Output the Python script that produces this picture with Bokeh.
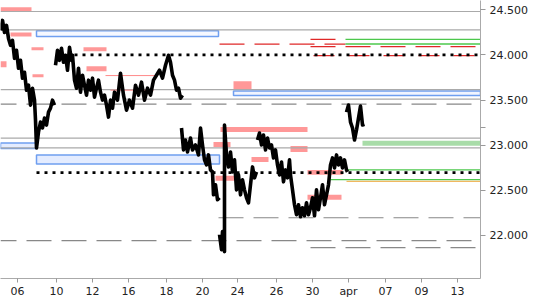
from bokeh.plotting import figure
from bokeh.models import Range1d, FixedTicker, Label, ColumnDataSource
from bokeh.embed import file_html
from bokeh.resources import INLINE

NaN = float("nan")

# ---- x tick positions (bar index) and labels ----
tick_pos = [8.5, 28, 46, 64, 83, 101, 118.5, 138, 156, 174, 192.5, 210.5, 228.5]
tick_labels = ["06", "10", "12", "16", "18", "20", "24", "26", "30", "apr", "07", "09", "13"]

price_ticks = [22.0, 22.5, 23.0, 23.5, 24.0, 24.5]
price_tick_labels = ["22.000", "22.500", "23.000", "23.500", "24.000", "24.500"]
last_price = 23.20025
last_price_label = "23.200,25"

# ---- price series segments (bar index, price) ----
seg1_x = [0, 1, 2, 3, 4, 5, 6, 7, 8, 9, 10, 11, 12, 13, 14, 15, 16, 17, 17.5, 18, 19, 20, 21, 22, 23, 24, 25, 26, 27]
seg1_y = [24.271, 24.382, 24.249, 24.327, 24.183, 24.106, 24.161, 23.962, 24.051, 23.852, 23.940, 23.742, 23.808,
          23.609, 23.664, 23.444, 23.631, 23.499, 23.278, 22.969, 23.146, 23.256, 23.190, 23.300, 23.223, 23.366,
          23.410, 23.499, 23.444]
seg2_x = [27.5, 28.5, 29.5, 30.5, 31.5, 32.5, 33.5, 34.5, 35.5, 36, 37, 38, 39, 40, 41, 42, 43, 44, 45, 46, 47, 48,
          49, 50, 51, 52, 53, 54, 55, 56, 57, 58.5, 60, 61.5, 63, 64.5, 66, 67.5, 69, 70.5, 72, 73.5, 75, 76.5, 78,
          79.5, 81, 82.5, 84, 85, 86, 87, 88, 89, 90, 91]
seg2_y = [23.885, 24.051, 23.940, 24.073, 23.918, 23.996, 23.830, 24.084, 23.940, 23.996, 23.720, 23.631, 23.852,
          23.587, 23.775, 23.664, 23.554, 23.720, 23.609, 23.742, 23.532, 23.631, 23.720, 23.587, 23.499, 23.554,
          23.444, 23.311, 23.499, 23.410, 23.587, 23.499, 23.797, 23.554, 23.388, 23.499, 23.410, 23.664, 23.554,
          23.698, 23.499, 23.631, 23.554, 23.720, 23.775, 23.830, 23.742, 23.885, 23.996, 23.918, 23.775, 23.720,
          23.609, 23.631, 23.521, 23.554]
seg3_x = [90.5, 91.5, 92.5, 93.5, 95, 96, 97.5, 99, 100, 101, 102, 103, 104, 105, 106, 106.5, 107.5, 108.5, 109.5]
seg3_y = [23.190, 22.947, 23.057, 22.925, 23.079, 22.947, 23.002, 22.892, 23.190, 23.002, 22.837, 22.781, 22.892,
          22.726, 22.704, 22.450, 22.561, 22.395, 22.417]
seg4_x = [109.5, 110.5, 111, 111.5, 112, 112, 113, 114, 115, 116, 117, 118, 119, 120, 121, 122, 123, 124, 125, 126,
          127, 128]
seg4_y = [22.009, 21.843, 22.042, 21.865, 21.821, 23.223, 22.892, 22.759, 22.925, 22.704, 22.837, 22.505, 22.671,
          22.450, 22.616, 22.505, 22.417, 22.362, 22.561, 22.759, 22.638, 22.704]
seg5_x = [128.5, 129.5, 130.5, 131.5, 132.5, 133.5, 134.5, 135.5, 136.5, 137.5, 138.5, 139.5, 140.5, 141.5, 142.5,
          143.5, 144.5, 145, 146, 147, 148, 149, 150, 151, 152, 153, 154, 155, 156, 157, 158, 159, 160, 161, 162,
          163, 164, 165, 166, 167, 168, 169, 170, 171, 172, 173, 173.5]
seg5_y = [23.057, 23.135, 23.002, 23.113, 22.947, 23.079, 22.969, 23.002, 22.859, 22.947, 22.781, 22.671, 22.814,
          22.594, 22.726, 22.638, 22.837, 22.671, 22.505, 22.340, 22.229, 22.340, 22.207, 22.307, 22.218, 22.362,
          22.229, 22.307, 22.417, 22.218, 22.505, 22.285, 22.417, 22.561, 22.340, 22.450, 22.561, 22.781, 22.859,
          22.748, 22.892, 22.781, 22.859, 22.748, 22.837, 22.726, 22.704]
seg6_x = [173, 174, 175, 176, 177, 178, 179, 180, 181, 182]
seg6_y = [23.366, 23.444, 23.256, 23.190, 23.057, 23.168, 23.300, 23.433, 23.223, 23.230]

# ---- horizontal levels ----
gray_solid_y = [24.481, 24.277, 23.615, 23.510, 23.079, 22.969]
gray_solid_x0 = [0, 0, 0, 62.5, 0, 0]
gray_solid_x1 = [240, 240, 240, 240, 240, 240]

gray_dash_y = [23.455, 22.196, 21.942, 21.865]
gray_dash_x0 = [0, 109, 0, 155]
gray_dash_x1 = [240, 240, 235.5, 237.5]
gray_dash_off = [9, 0, 9, 0]

red_dash_y = [24.120, 24.091]
red_dash_x0 = [109.5, 155]
red_dash_x1 = [172.5, 237.5]
red_dash2_y = [23.992]
red_dash2_x0 = [156.5]
red_dash2_x1 = [237.5]
red_solid_y = [24.172]
red_solid_x0 = [155]
red_solid_x1 = [167.5]

green_y = [24.172, 24.120, 22.726, 22.618]
green_x0 = [172.5, 172.5, 173.5, 165]
green_x1 = [240, 240, 240, 240]
orange_y = [22.600]
orange_x0 = [173]
orange_x1 = [240]

dot_y = [24.0, 22.696]
dot_x0 = [37, 18]
dot_x1 = [240, 240]

pink_line_y = [23.771, 23.609]
pink_line_x0 = [52.5, 55]
pink_line_x1 = [77.5, 76.5]

# ---- zones ----
pink_left = [0, 5, 15.5, 0, 16, 41.5, 43, 116.5, 110, 106.5, 125.5, 145, 107.5, 153.5, 153.5]
pink_right = [15.5, 15.5, 21.5, 3, 21.5, 53, 53, 125.5, 153.5, 115, 134, 153.5, 117.5, 171, 170.5]
pink_bottom = [24.484, 24.205, 24.051, 23.863, 23.753, 24.040, 23.819, 23.620, 23.146, 22.980, 22.814, 22.925,
               22.605, 22.671, 22.395]
pink_top = [24.528, 24.249, 24.084, 23.929, 23.786, 24.084, 23.874, 23.709, 23.201, 23.035, 22.870, 22.991,
            22.660, 22.726, 22.450]

blue_left = [18, 116.5, 0, 18]
blue_right = [109, 240, 18, 109.5]
blue_bottom = [24.205, 23.551, 22.963, 22.792]
blue_top = [24.268, 23.601, 23.024, 22.892]
blue_fill = ["#f6f8ff", "#f0f4ff", "#e4ecff", "#e4ecff"]

green_zone_left = [181]
green_zone_right = [240]
green_zone_bottom = [22.993]
green_zone_top = [23.049]

FONT = "DejaVu Sans"

p = figure(width=550, height=300, x_range=Range1d(0, 240), y_range=Range1d(21.523, 24.6026),
           output_backend="svg", toolbar_location=None, y_axis_location="right",
           min_border_left=0, min_border_top=0, min_border_right=70, min_border_bottom=21)
p.outline_line_color = None
p.xgrid.visible = False
p.ygrid.visible = False
p.background_fill_color = "white"
p.border_fill_color = "white"

# axes
xa = p.xaxis[0]
xa.ticker = FixedTicker(ticks=tick_pos)
xa.major_label_overrides = {t: l for t, l in zip(tick_pos, tick_labels)}
xa.axis_line_color = "#aaaaaa"
xa.major_tick_line_color = "#999999"
xa.major_tick_out = 4
xa.major_tick_in = 0
xa.minor_tick_line_color = None
xa.major_label_standoff = 2
xa.major_label_text_font = FONT
xa.major_label_text_font_size = "11px"
xa.major_label_text_color = "#222222"

ya = p.yaxis[0]
yt = price_ticks + [last_price]
ya.ticker = FixedTicker(ticks=yt)
ov = {t: l for t, l in zip(price_ticks, price_tick_labels)}
ov[last_price] = ""
ya.major_label_overrides = ov
ya.axis_line_color = "#aaaaaa"
ya.major_tick_line_color = "#999999"
ya.major_tick_out = 5
ya.major_tick_in = 0
ya.minor_tick_line_color = None
ya.major_label_standoff = 4
ya.major_label_text_font = FONT
ya.major_label_text_font_size = "11px"
ya.major_label_text_color = "#222222"

# zones
p.quad(left=green_zone_left, right=green_zone_right, bottom=green_zone_bottom, top=green_zone_top,
       fill_color="#a8dca8", line_color=None)
p.quad(left=pink_left, right=pink_right, bottom=pink_bottom, top=pink_top, fill_color="#ff9898", line_color=None)
p.quad(source=ColumnDataSource(dict(left=blue_left, right=blue_right, bottom=blue_bottom, top=blue_top,
                                    fill=blue_fill)),
       left="left", right="right", bottom="bottom", top="top", fill_color="fill",
       line_color="#6f9ff0", line_width=1.5)

# levels
p.segment(x0=gray_solid_x0, y0=gray_solid_y, x1=gray_solid_x1, y1=gray_solid_y, line_color="#aaaaaa", line_width=1.2)
for y, a, b, off in zip(gray_dash_y, gray_dash_x0, gray_dash_x1, gray_dash_off):
    p.line([a, b], [y, y], line_color="#888888", line_width=1.2, line_dash="25 10", line_dash_offset=off)
p.segment(x0=pink_line_x0, y0=pink_line_y, x1=pink_line_x1, y1=pink_line_y, line_color="#ff8a8a", line_width=1)
for y, a, b in zip(red_dash_y, red_dash_x0, red_dash_x1):
    p.line([a, b], [y, y], line_color="#e02828", line_width=1.3, line_dash="25 10")
for y, a, b in zip(red_dash2_y, red_dash2_x0, red_dash2_x1):
    p.line([a, b], [y, y], line_color="#e02828", line_width=1.3, line_dash="21 14")
p.segment(x0=red_solid_x0, y0=red_solid_y, x1=red_solid_x1, y1=red_solid_y, line_color="#e02828", line_width=1.3)
p.segment(x0=green_x0, y0=green_y, x1=green_x1, y1=green_y, line_color="#4cc84c", line_width=1.4)
p.segment(x0=orange_x0, y0=orange_y, x1=orange_x1, y1=orange_y, line_color="#f0b860", line_width=1.2)
for y, a, b in zip(dot_y, dot_x0, dot_x1):
    p.line([a, b], [y, y], line_color="black", line_width=2.6, line_dash="3 5")

# price series
px = seg1_x + [NaN] + seg2_x + [NaN] + seg3_x + [NaN] + seg4_x + [NaN] + seg5_x + [NaN] + seg6_x
py = seg1_y + [NaN] + seg2_y + [NaN] + seg3_y + [NaN] + seg4_y + [NaN] + seg5_y + [NaN] + seg6_y
p.line(px, py, line_color="black", line_width=3.6, line_join="round")

# last price box
lab = Label(x=243.5, y=last_price, text=last_price_label, text_baseline="middle", text_align="left",
            text_font=FONT, text_font_size="11px", text_color="black",
            background_fill_color="#ffcc14", border_line_color="#a0a0a0", border_line_width=1, padding=3)
p.add_layout(lab)

open("out.html", "w").write(file_html(p, INLINE))
